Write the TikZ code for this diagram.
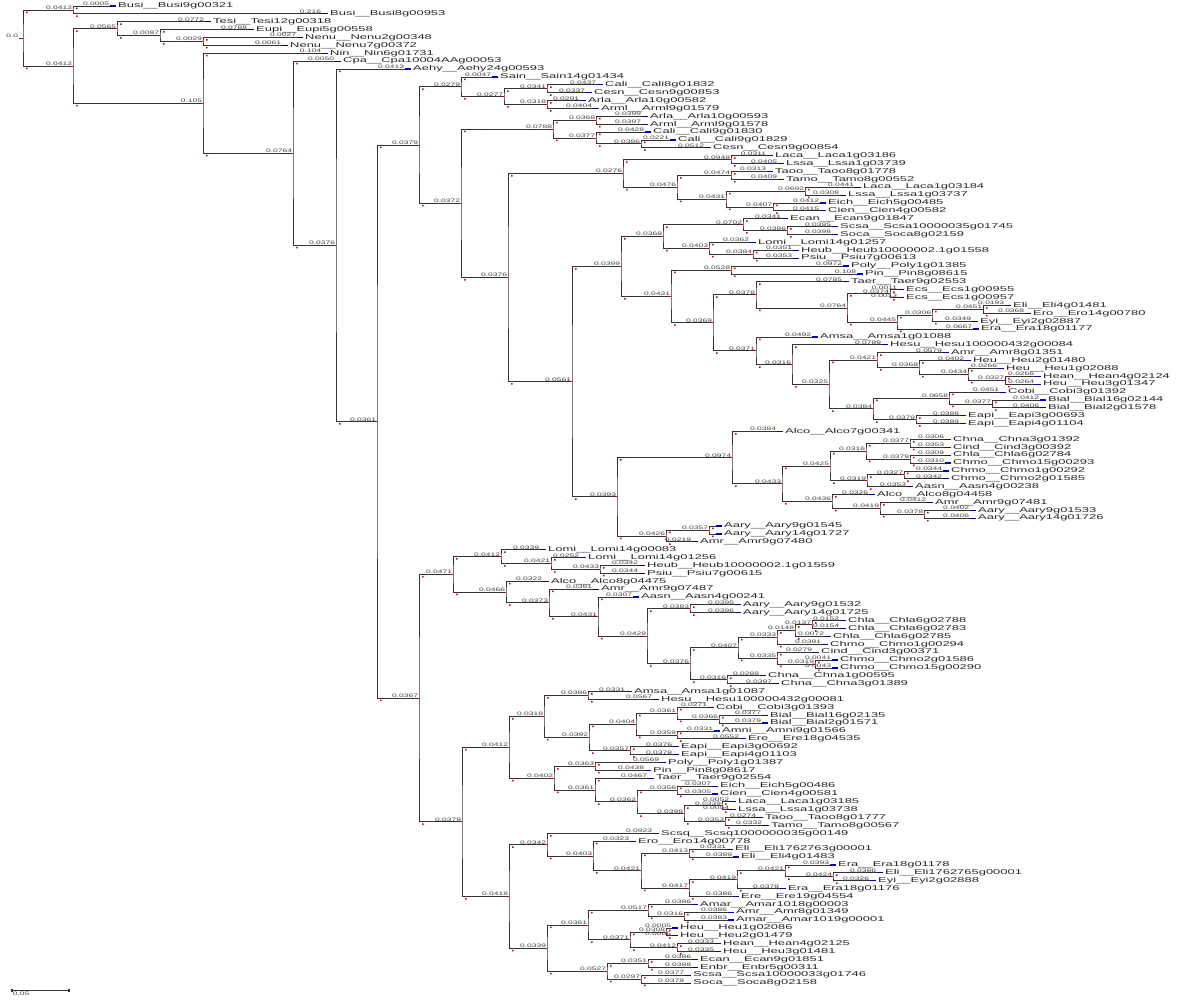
\documentclass[tikz,border=0pt]{standalone}
\usepackage{fontspec}
\setmainfont{Liberation Sans}
\usetikzlibrary{calc}
\pgfdeclarelayer{front}
\pgfsetlayers{main,front}

% leaf: name, row, end x, gene
\newcommand{\lf}[4]{%
  \coordinate (#1) at (#3,{6+(#2-1)*7.88});
  \draw[tipline] (#1) -- ++(6,0) node[gene] (t#1) {#4};
}
% clade: name, x, upper child, length, lower child, length
\newcommand{\cl}[6]{%
  \path let \p1=(#3), \p2=(#5) in coordinate (#1) at (#2pt,{0.5*(\y1+\y2)});
  \draw[brline] (#3) -| (#1) |- (#5);
  \node[blen] (b#3) at (#3) {#4};
  \node[blen] (b#5) at (#5) {#6};
  \fill[redmark] let \p1=(#3), \p2=(#5) in
    (#2pt+3pt,\y1-1.6pt) rectangle ++(1.5pt,-1.5pt)
    (#2pt+3pt,\y2-1.6pt) rectangle ++(1.5pt,-1.5pt);
  \begin{pgfonlayer}{front}
    \draw[stub] (#1) -- ++(-3,0);
  \end{pgfonlayer}
}

\begin{document}
\begin{tikzpicture}[x=1pt,y=-1pt,
  brline/.style={line width=0.8pt,black!80},
  tipline/.style={line width=1.2pt,blue!75!black},
  gene/.style={anchor=west,inner sep=0.6pt,xscale=1.85,text=black!85,font=\fontsize{7}{8}\selectfont},
  blen/.style={anchor=south east,inner sep=0.3pt,xscale=1.7,text=black!75,font=\fontsize{5}{5}\selectfont},
  redmark/.style={fill=red!80!black},
  stub/.style={line width=0.8pt,red!80!black}]
\useasboundingbox (0,0) rectangle (1200,1000);

% outgroups
\lf{l1}{1}{110}{Busi\_\_Busi9g00321}
\lf{l2}{2}{322}{Busi\_\_Busi8g00953}
\cl{nA}{73}{l1}{0.0005}{l2}{0.216}
\lf{l3}{3}{205}{Tesi\_\_Tesi12g00318}
\lf{l4}{4}{248}{Eupi\_\_Eupi5g00558}
\lf{l5}{5}{297}{Nenu\_\_Nenu2g00348}
\lf{l6}{6}{282}{Nenu\_\_Nenu7g00372}
\cl{nB3}{203}{l5}{0.0027}{l6}{0.0061}
\cl{nB2}{160}{l4}{0.0788}{nB3}{0.0029}
\cl{nB1}{117}{l3}{0.0772}{nB2}{0.0087}
\lf{l7}{7}{322}{Nin\_\_Nin6g01731}
\lf{l8}{8}{335}{Cpa\_\_Cpa10004AAg00053}
\lf{l9}{9}{405}{Aehy\_\_Aehy24g00593}

% upper clade
\lf{l10}{10}{492}{Sain\_\_Sain14g01434}
\lf{l11}{11}{597}{Cali\_\_Cali8g01832}
\lf{l12}{12}{586}{Cesn\_\_Cesn9g00853}
\lf{l13}{13}{580}{Arla\_\_Arla10g00582}
\lf{l14}{14}{593}{Arml\_\_Arml9g01579}
\cl{nF4}{547}{l11}{0.0437}{l12}{0.0337}
\cl{nF5}{547}{l13}{0.0291}{l14}{0.0404}
\cl{nF3}{504}{nF4}{0.0341}{nF5}{0.0318}
\cl{nF1}{461}{l10}{0.0047}{nF3}{0.0277}
\lf{l15}{15}{642}{Arla\_\_Arla10g00593}
\lf{l16}{16}{642}{Arml\_\_Arml9g01578}
\lf{l17}{17}{645}{Cali\_\_Cali9g01830}
\lf{l18}{18}{670}{Cali\_\_Cali9g01829}
\lf{l19}{19}{705}{Cesn\_\_Cesn9g00854}
\cl{nF8}{596}{l15}{0.0399}{l16}{0.0397}
\cl{nF10}{641}{l18}{0.0221}{l19}{0.0512}
\cl{nF9}{596}{l17}{0.0428}{nF10}{0.0386}
\cl{nF7}{553}{nF8}{0.0368}{nF9}{0.0377}
\lf{l20}{20}{767}{Laca\_\_Laca1g03186}
\lf{l21}{21}{778}{Lssa\_\_Lssa1g03739}
\lf{l22}{22}{767}{Taoo\_\_Taoo8g01778}
\lf{l23}{23}{778}{Tamo\_\_Tamo8g00552}
\lf{l24}{24}{855}{Laca\_\_Laca1g03184}
\lf{l25}{25}{840}{Lssa\_\_Lssa1g03737}
\lf{l26}{26}{820}{Eich\_\_Eich5g00485}
\lf{l27}{27}{820}{Cien\_\_Cien4g00582}
\cl{nH2}{731}{l20}{0.0311}{l21}{0.0405}
\cl{nH4}{731}{l22}{0.0313}{l23}{0.0409}
\cl{nH6}{805}{l24}{0.0441}{l25}{0.0308}
\cl{nH7}{773}{l26}{0.0412}{l27}{0.0415}
\cl{nH5}{726}{nH6}{0.0692}{nH7}{0.0407}
\cl{nH3}{677}{nH4}{0.0474}{nH5}{0.0431}
\cl{nH1}{623}{nH2}{0.0948}{nH3}{0.0476}
\lf{l28}{28}{782}{Ecan\_\_Ecan9g01847}
\lf{l29}{29}{832}{Scsa\_\_Scsa10000035g01745}
\lf{l30}{30}{832}{Soca\_\_Soca8g02159}
\lf{l31}{31}{750}{Lomi\_\_Lomi14g01257}
\lf{l32}{32}{793}{Heub\_\_Heub10000002.1g01558}
\lf{l33}{33}{793}{Psiu\_\_Psiu7g00613}
\cl{nK4}{787}{l29}{0.0395}{l30}{0.0398}
\cl{nK3}{743}{l28}{0.0341}{nK4}{0.0386}
\cl{nK6}{753}{l32}{0.0351}{l33}{0.0353}
\cl{nK5}{709}{l31}{0.0362}{nK6}{0.0384}
\cl{nK2}{663}{nK3}{0.0702}{nK5}{0.0403}
\lf{l34}{34}{843}{Poly\_\_Poly1g01385}
\lf{l35}{35}{857}{Pin\_\_Pin8g08615}
\cl{nK8}{731}{l34}{0.0972}{l35}{0.108}
\lf{l36}{36}{843}{Taer\_\_Taer9g02553}
\lf{l37}{37}{898}{Ecs\_\_Ecs1g00955}
\lf{l38}{38}{898}{Ecs\_\_Ecs1g00957}
\lf{l39}{39}{1005}{Eli\_\_Eli4g01481}
\lf{l40}{40}{1025}{Ero\_\_Ero14g00780}
\lf{l41}{41}{972}{Eyi\_\_Eyi2g02887}
\lf{l42}{42}{973}{Era\_\_Era18g01177}
\cl{nK11}{890}{l37}{0.0011}{l38}{0.0013}
\cl{nK14}{983}{l39}{0.0193}{l40}{0.0368}
\cl{nK13}{932}{nK14}{0.0451}{l41}{0.0349}
\cl{nK12}{897}{nK13}{0.0306}{l42}{0.0667}
\cl{nK10}{847}{nK11}{0.0374}{nK12}{0.0445}
\cl{nK9}{756}{l36}{0.0785}{nK10}{0.0764}
\lf{l43}{43}{812}{Amsa\_\_Amsa1g01088}
\lf{l44}{44}{882}{Hesu\_\_Hesu100000432g00084}
\lf{l45}{45}{943}{Amr\_\_Amr8g01351}
\lf{l46}{46}{965}{Heu\_\_Heu2g01480}
\lf{l47}{47}{998}{Heu\_\_Heu1g02088}
\lf{l48}{48}{1035}{Hean\_\_Hean4g02124}
\lf{l49}{49}{1035}{Heu\_\_Heu3g01347}
\cl{nM6}{1005}{l48}{0.0266}{l49}{0.0264}
\cl{nM5}{968}{l47}{0.0266}{nM6}{0.0327}
\cl{nM4}{919}{l46}{0.0402}{nM5}{0.0434}
\cl{nM3}{877}{l45}{0.0579}{nM4}{0.0368}
\lf{l50}{50}{1000}{Cobi\_\_Cobi3g01392}
\lf{l51}{51}{1040}{Bial\_\_Bial16g02144}
\lf{l52}{52}{1040}{Bial\_\_Bial2g01578}
\lf{l53}{53}{960}{Eapi\_\_Eapi3g00693}
\lf{l54}{54}{960}{Eapi\_\_Eapi4g01104}
\cl{nM9}{992}{l51}{0.0412}{l52}{0.0406}
\cl{nM8}{949}{l50}{0.0451}{nM9}{0.0377}
\cl{nM10}{916}{l53}{0.0388}{l54}{0.0389}
\cl{nM7}{873}{nM8}{0.0658}{nM10}{0.0379}
\cl{nM2}{829}{nM3}{0.0421}{nM7}{0.0384}
\cl{nM1}{792}{l44}{0.0789}{nM2}{0.0325}
\cl{nK15}{756}{l43}{0.0492}{nM1}{0.0316}
\cl{nK7}{713}{nK9}{0.0378}{nK15}{0.0371}
\cl{nK1}{671}{nK8}{0.0528}{nK7}{0.0369}
\cl{nK0}{621}{nK2}{0.0368}{nK1}{0.0431}
\lf{l55}{55}{777}{Alco\_\_Alco7g00341}
\lf{l56}{56}{945}{Chna\_\_Chna3g01392}
\lf{l57}{57}{945}{Cind\_\_Cind3g00392}
\lf{l58}{58}{945}{Chla\_\_Chla6g02784}
\lf{l59}{59}{945}{Chmo\_\_Chmo15g00293}
\lf{l60}{60}{943}{Chmo\_\_Chmo1g00292}
\lf{l61}{61}{943}{Chmo\_\_Chmo2g01585}
\lf{l62}{62}{907}{Aasn\_\_Aasn4g00238}
\cl{nP6}{910}{l56}{0.0306}{l57}{0.0353}
\cl{nP7}{910}{l58}{0.0309}{l59}{0.0310}
\cl{nP5}{866}{nP6}{0.0377}{nP7}{0.0379}
\cl{nP9}{904}{l60}{0.0344}{l61}{0.0342}
\cl{nP8}{867}{nP9}{0.0327}{l62}{0.0353}
\cl{nP4}{830}{nP5}{0.0316}{nP8}{0.0319}
\lf{l63}{63}{869}{Alco\_\_Alco8g04458}
\lf{l64}{64}{927}{Amr\_\_Amr9g07481}
\lf{l65}{65}{970}{Aary\_\_Aary9g01533}
\lf{l66}{66}{970}{Aary\_\_Aary14g01726}
\cl{nP12}{924}{l65}{0.0402}{l66}{0.0406}
\cl{nP11}{880}{l64}{0.0412}{nP12}{0.0378}
\cl{nP10}{832}{l63}{0.0326}{nP11}{0.0419}
\cl{nP3}{782}{nP4}{0.0425}{nP10}{0.0436}
\cl{nP2}{732}{l55}{0.0384}{nP3}{0.0433}
\lf{l67}{67}{716}{Aary\_\_Aary9g01545}
\lf{l68}{68}{716}{Aary\_\_Aary14g01727}
\lf{l69}{69}{692}{Amr\_\_Amr9g07480}
\cl{nP14}{709}{l67}{}{l68}{}
\cl{nP13}{666}{nP14}{0.0357}{l69}{0.0219}
\cl{nP1}{617}{nP2}{0.0974}{nP13}{0.0426}
\cl{nK}{572}{nK0}{0.0399}{nP1}{0.0393}
\cl{nH}{508}{nH1}{0.0276}{nK}{0.0561}
\cl{nF6}{461}{nF7}{0.0788}{nH}{0.0376}
\cl{nF}{419}{nF1}{0.0279}{nF6}{0.0372}

% lower clade
\lf{l70}{70}{540}{Lomi\_\_Lomi14g00083}
\lf{l71}{71}{580}{Lomi\_\_Lomi14g01256}
\lf{l72}{72}{639}{Heub\_\_Heub10000002.1g01559}
\lf{l73}{73}{639}{Psiu\_\_Psiu7g00615}
\cl{nG5}{600}{l72}{0.0342}{l73}{0.0344}
\cl{nG4}{551}{l71}{0.0252}{nG5}{0.0433}
\cl{nG3}{501}{l70}{0.0339}{nG4}{0.0421}
\lf{l74}{74}{543}{Alco\_\_Alco8g04475}
\lf{l75}{75}{593}{Amr\_\_Amr9g07487}
\lf{l76}{76}{633}{Aasn\_\_Aasn4g00241}
\lf{l77}{77}{735}{Aary\_\_Aary9g01532}
\lf{l78}{78}{735}{Aary\_\_Aary14g01725}
\cl{nG10}{690}{l77}{0.0395}{l78}{0.0396}
\lf{l79}{79}{840}{Chla\_\_Chla6g02788}
\lf{l80}{80}{840}{Chla\_\_Chla6g02783}
\lf{l81}{81}{825}{Chla\_\_Chla6g02785}
\lf{l82}{82}{822}{Chmo\_\_Chmo1g00294}
\cl{nG15}{812}{l79}{0.0152}{l80}{0.0154}
\cl{nG14}{795}{nG15}{0.0137}{l81}{0.0072}
\cl{nG13}{777}{nG14}{0.0148}{l82}{0.0381}
\lf{l83}{83}{813}{Cind\_\_Cind3g00371}
\lf{l84}{84}{832}{Chmo\_\_Chmo2g01586}
\lf{l85}{85}{832}{Chmo\_\_Chmo15g00290}
\cl{nG17}{815}{l84}{0.0041}{l85}{0.0043}
\cl{nG16}{777}{l83}{0.0279}{nG17}{0.0319}
\cl{nG12}{738}{nG13}{0.0333}{nG16}{0.0335}
\lf{l86}{86}{760}{Chna\_\_Chna1g00595}
\lf{l87}{87}{773}{Chna\_\_Chna3g01389}
\cl{nG18}{727}{l86}{0.0288}{l87}{0.0397}
\cl{nG11}{690}{nG12}{0.0407}{nG18}{0.0316}
\cl{nG9}{647}{nG10}{0.0383}{nG11}{0.0376}
\cl{nG8}{598}{l76}{0.0307}{nG9}{0.0429}
\cl{nG7}{549}{l75}{0.0381}{nG8}{0.0431}
\cl{nG6}{506}{l74}{0.0322}{nG7}{0.0373}
\cl{nG2}{453}{nG3}{0.0412}{nG6}{0.0466}
\lf{l88}{88}{626}{Amsa\_\_Amsa1g01087}
\lf{l89}{89}{653}{Hesu\_\_Hesu100000432g00081}
\cl{nQ3}{588}{l88}{0.0331}{l89}{0.0567}
\lf{l90}{90}{708}{Cobi\_\_Cobi3g01393}
\lf{l91}{91}{762}{Bial\_\_Bial16g02135}
\lf{l92}{92}{762}{Bial\_\_Bial2g01571}
\lf{l93}{93}{714}{Amni\_\_Amni9g01566}
\lf{l94}{94}{740}{Ere\_\_Ere18g04535}
\lf{l95}{95}{673}{Eapi\_\_Eapi3g00692}
\lf{l96}{96}{673}{Eapi\_\_Eapi4g01103}
\cl{nQ7}{719}{l91}{0.0377}{l92}{0.0379}
\cl{nQ6}{677}{l90}{0.0271}{nQ7}{0.0366}
\cl{nQ8}{677}{l93}{0.0331}{l94}{0.0552}
\cl{nQ5}{636}{nQ6}{0.0361}{nQ8}{0.0359}
\cl{nQ9}{630}{l95}{0.0376}{l96}{0.0378}
\cl{nQ4}{589}{nQ5}{0.0404}{nQ9}{0.0357}
\cl{nQ2}{544}{nQ3}{0.0386}{nQ4}{0.0392}
\lf{l97}{97}{660}{Poly\_\_Poly1g01387}
\lf{l98}{98}{645}{Pin\_\_Pin8g08617}
\lf{l99}{99}{648}{Taer\_\_Taer9g02554}
\lf{l100}{100}{712}{Eich\_\_Eich5g00486}
\lf{l101}{101}{712}{Cien\_\_Cien4g00581}
\lf{l102}{102}{730}{Laca\_\_Laca1g03185}
\lf{l103}{103}{730}{Lssa\_\_Lssa1g03738}
\lf{l104}{104}{757}{Taoo\_\_Taoo8g01777}
\lf{l105}{105}{763}{Tamo\_\_Tamo8g00567}
\cl{nQ11}{595}{l97}{0.0569}{l98}{0.0438}
\cl{nQ14}{677}{l100}{0.0307}{l101}{0.0305}
\cl{nQ16}{722}{l102}{0.0052}{l103}{0.0054}
\cl{nQ17}{725}{l104}{0.0274}{l105}{0.0332}
\cl{nQ15}{684}{nQ16}{0.0339}{nQ17}{0.0353}
\cl{nQ13}{637}{nQ14}{0.0356}{nQ15}{0.0398}
\cl{nQ12}{595}{l99}{0.0467}{nQ13}{0.0362}
\cl{nQ10}{554}{nQ11}{0.0363}{nQ12}{0.0361}
\cl{nQ1}{509}{nQ2}{0.0318}{nQ10}{0.0402}
\lf{l106}{106}{653}{Scsq\_\_Scsq1000000035g00149}
\lf{l107}{107}{630}{Ero\_\_Ero14g00778}
\lf{l108}{108}{727}{Eli\_\_Eli1762763g00001}
\lf{l109}{109}{733}{Eli\_\_Eli4g01483}
\lf{l110}{110}{830}{Era\_\_Era18g01178}
\lf{l111}{111}{877}{Eli\_\_Eli1762765g00001}
\lf{l112}{112}{870}{Eyi\_\_Eyi2g02888}
\lf{l113}{113}{780}{Era\_\_Era18g01176}
\lf{l114}{114}{733}{Ere\_\_Ere19g04554}
\cl{nR5}{689}{l108}{0.0331}{l109}{0.0389}
\cl{nR9}{833}{l111}{0.0386}{l112}{0.0326}
\cl{nR8}{785}{l110}{0.0393}{nR9}{0.0424}
\cl{nR7}{737}{nR8}{0.0421}{l113}{0.0378}
\cl{nR6}{689}{nR7}{0.0419}{l114}{0.0386}
\cl{nR4}{641}{nR5}{0.0413}{nR6}{0.0417}
\cl{nR3}{593}{l107}{0.0323}{nR4}{0.0421}
\cl{nR2}{547}{l106}{0.0923}{nR3}{0.0403}
\lf{l115}{115}{692}{Amar\_\_Amar1018g00003}
\lf{l116}{116}{728}{Amr\_\_Amr8g01349}
\lf{l117}{117}{728}{Amar\_\_Amar1019g00001}
\lf{l118}{118}{672}{Heu\_\_Heu1g02086}
\lf{l119}{119}{672}{Heu\_\_Heu2g01479}
\lf{l120}{120}{715}{Hean\_\_Hean4g02125}
\lf{l121}{121}{715}{Heu\_\_Heu3g01481}
\cl{nR13}{684}{l116}{0.0386}{l117}{0.0383}
\cl{nR12}{648}{l115}{0.0386}{nR13}{0.0316}
\cl{nR15}{666}{l118}{0.0005}{l119}{0.0006}
\cl{nR16}{677}{l120}{0.0333}{l121}{0.0335}
\cl{nR14}{630}{nR15}{0.0308}{nR16}{0.0412}
\cl{nR11}{588}{nR12}{0.0517}{nR14}{0.0371}
\lf{l122}{122}{692}{Ecan\_\_Ecan9g01851}
\lf{l123}{123}{692}{Enbr\_\_Enbr5g00311}
\lf{l124}{124}{685}{Scsa\_\_Scsa10000033g01746}
\lf{l125}{125}{685}{Soca\_\_Soca8g02158}
\cl{nR18}{648}{l122}{0.0386}{l123}{0.0388}
\cl{nR19}{641}{l124}{0.0377}{l125}{0.0379}
\cl{nR17}{607}{nR18}{0.0351}{nR19}{0.0297}
\cl{nR10}{547}{nR11}{0.0361}{nR17}{0.0527}
\cl{nR1}{509}{nR2}{0.0342}{nR10}{0.0339}
\cl{nG1}{462}{nQ1}{0.0412}{nR1}{0.0418}
\cl{nG}{419}{nG2}{0.0471}{nG1}{0.0379}

% backbone
\cl{nE}{377}{nF}{0.0379}{nG}{0.0367}
\cl{nD}{336}{l9}{0.0413}{nE}{0.0361}
\cl{nC}{293}{l8}{0.0050}{nD}{0.0376}
\cl{nB4}{203}{l7}{0.104}{nC}{0.0764}
\cl{nB}{73}{nB1}{0.0565}{nB4}{0.105}
\cl{root}{23}{nA}{0.0412}{nB}{0.0412}
\node[blen,anchor=south east] (rootlab) at (19,38) {0.0};
\draw[stub] (root) -- ++(-4,0);

% scale bar
\coordinate (sb1) at (12,990);
\coordinate (sb2) at (69,990);
\draw[brline,line width=0.6pt] (sb1) -- (sb2);
\fill[black!80] (sb1) ++(-0.8,-1.5) rectangle ++(1.6,3);
\fill[black!80] (sb2) ++(-0.8,-1.5) rectangle ++(1.6,3);
\node[blen,anchor=north west] (sblab) at (12,992) {0.05};
\end{tikzpicture}
\end{document}
